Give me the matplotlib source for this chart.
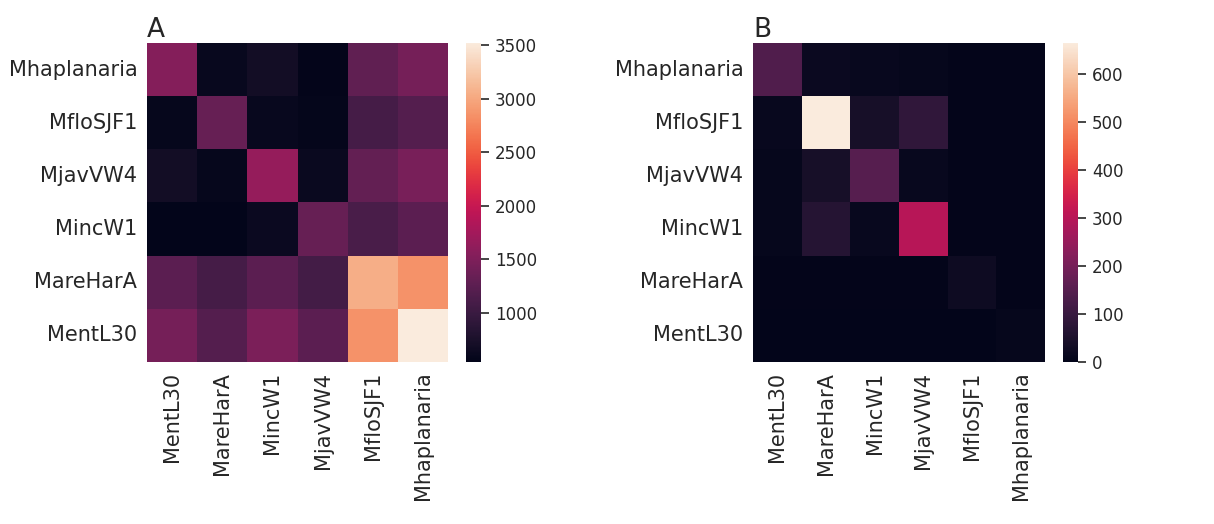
import numpy as np
import matplotlib
matplotlib.use("Agg")
import matplotlib.pyplot as plt
import seaborn as sns

# row and column labels
rows = ["Mhaplanaria", "MfloSJF1", "MjavVW4", "MincW1", "MareHarA", "MentL30"]
cols = ["MentL30", "MareHarA", "MincW1", "MjavVW4", "MfloSJF1", "Mhaplanaria"]

# panel A values
vals_a = np.array([
    [1530, 600, 680, 560, 1280, 1430],
    [580, 1330, 600, 570, 1080, 1200],
    [680, 580, 1650, 610, 1300, 1450],
    [550, 540, 630, 1330, 1120, 1250],
    [1250, 1080, 1250, 1070, 3050, 2850],
    [1430, 1200, 1480, 1250, 2850, 3520],
])

# panel B values
vals_b = np.array([
    [140, 20, 15, 10, 5, 3],
    [15, 665, 40, 85, 5, 3],
    [10, 40, 150, 15, 5, 3],
    [10, 65, 15, 300, 5, 3],
    [3, 3, 3, 3, 25, 3],
    [2, 2, 2, 2, 2, 8],
])

plt.rcParams['font.family'] = ['DejaVu Sans']
plt.rcParams['text.color'] = '#262626'
plt.rcParams['xtick.color'] = '#262626'
plt.rcParams['ytick.color'] = '#262626'
plt.rcParams['ytick.major.size'] = 6
plt.rcParams['ytick.major.width'] = 1.2
plt.rcParams['ytick.direction'] = 'out'

fig = plt.figure(figsize=(12.14, 5.24), dpi=100)
W, H = 1214, 524

def px(x0, y0, x1, y1):
    return [x0 / W, 1 - y1 / H, (x1 - x0) / W, (y1 - y0) / H]

ax_a = fig.add_axes(px(147, 43, 448, 362))
cax_a = fig.add_axes(px(466, 43, 481, 362))
ax_b = fig.add_axes(px(753, 43, 1045, 362))
cax_b = fig.add_axes(px(1063, 43, 1078, 362))

sns.heatmap(vals_a, ax=ax_a, cbar=False, xticklabels=cols, yticklabels=rows)
sns.heatmap(vals_b, ax=ax_b, cbar=False, xticklabels=cols, yticklabels=rows, vmin=0)

for ax, cax, title in [(ax_a, cax_a, "A"), (ax_b, cax_b, "B")]:
    ax.set_title(title, loc="left", fontsize=19, pad=4)
    ax.tick_params(axis="y", labelsize=15, rotation=0, length=0, pad=7)
    ax.tick_params(axis="x", labelsize=15, rotation=90, length=0, pad=7)
    cb = fig.colorbar(ax.collections[0], cax=cax)
    cb.outline.set_visible(False)
    cax.yaxis.set_ticks_position("right")
    cax.tick_params(axis="y", labelsize=12, length=6, width=1.2, pad=4,
                    direction="out", right=True, left=False)

fig.savefig("out.png", dpi=100)
